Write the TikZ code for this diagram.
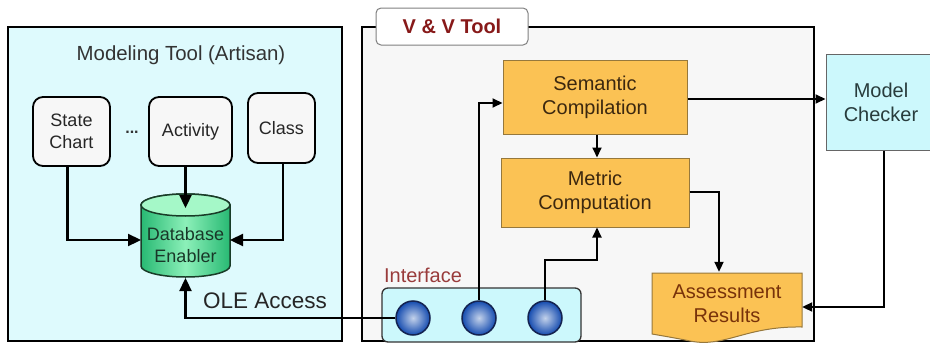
\documentclass[tikz,border=0pt]{standalone}
\usepackage{fontspec}
\setmainfont{Liberation Sans}
\usetikzlibrary{arrows.meta,shapes.geometric,calc}
\definecolor{leftbg}{RGB}{222,250,253}
\definecolor{vvbg}{RGB}{247,247,247}
\definecolor{orangef}{RGB}{251,194,84}
\definecolor{orangeb}{RGB}{150,120,60}
\definecolor{cyanbox}{RGB}{204,248,252}
\definecolor{darkred}{RGB}{135,25,25}
\definecolor{brownt}{RGB}{120,50,10}
\definecolor{proct}{RGB}{60,40,15}
\definecolor{dbdark}{RGB}{40,185,115}
\definecolor{dbmid}{RGB}{140,240,185}
\definecolor{dbtop}{RGB}{165,248,200}
\definecolor{dbline}{RGB}{25,60,40}
\definecolor{balldark}{RGB}{20,75,175}
\definecolor{balllight}{RGB}{195,210,235}
\definecolor{ballline}{RGB}{20,35,80}
\definecolor{mctext}{RGB}{40,60,60}
\definecolor{dbtext}{RGB}{25,55,40}
\tikzset{
  frame/.style={draw=black, line width=2pt},
  softbox/.style={draw=black, line width=1.8pt, fill=gray!6, rounded corners=10pt,
    align=center, inner sep=0pt, font=\fontsize{18}{22}\selectfont, text=black!85},
  procbox/.style={draw=orangeb, line width=1pt, fill=orangef, align=center, inner sep=0pt,
    font=\fontsize{20}{24}\selectfont, text=proct},
  conn/.style={line width=2pt, -{Triangle[length=10pt,width=9pt]}},
  bigconn/.style={line width=2.3pt, -{Triangle[length=13pt,width=12pt]}},
  port/.style={circle, minimum size=34pt, inner sep=0pt, inner color=balllight,
    outer color=balldark, draw=ballline, line width=1.5pt},
}
\begin{document}
\begin{tikzpicture}[x=1pt,y=-1pt]
\useasboundingbox (0,0) rectangle (930,351);
% frames
\draw[frame, fill=leftbg] (8,27) rectangle (342,341);
\draw[frame, fill=vvbg] (362,27) rectangle (814,341);
\node[draw=gray, fill=white, rounded corners=5pt, line width=1pt, minimum width=152pt,
  minimum height=37pt, inner sep=0pt, font=\bfseries\fontsize{20}{24}\selectfont, text=darkred]
  (vvlabel) at (452,26.5) {V \& V Tool};
\node[font=\fontsize{20.4}{24}\selectfont, text=black!80] (mtitle) at (181,55) {Modeling Tool (Artisan)};
% modeling boxes
\node[softbox, minimum width=77pt, minimum height=69pt] (sc) at (71.5,131.5) {State\\Chart};
\node[softbox, minimum width=83pt, minimum height=69pt] (act) at (190.5,131.5) {Activity};
\node[softbox, minimum width=67pt, minimum height=70pt] (cls) at (281.5,128) {Class};
\node[font=\bfseries\fontsize{16}{20}\selectfont, text=black!80] (dots) at (132,132) {...};
% database cylinder
\path[draw=dbline, line width=1.5pt, left color=dbdark, right color=dbdark, middle color=dbmid]
  (141,205) -- (141,266) arc[start angle=180, end angle=0, x radius=44.5, y radius=11]
  -- (230,205) arc[start angle=0, end angle=-180, x radius=44.5, y radius=11] -- cycle;
\draw[draw=dbline, line width=1.5pt, fill=dbtop] (185.5,205) ellipse[x radius=44.5, y radius=11];
\node[align=center, font=\fontsize{18}{22}\selectfont, text=dbtext] (db) at (185.5,245) {Database\\Enabler};
\coordinate (dbL) at (141,240);
\coordinate (dbR) at (230,240);
\coordinate (dbT) at (185.5,208);
\coordinate (dbB) at (185.5,278);
% V&V boxes
\node[procbox, minimum width=184pt, minimum height=74pt] (sem) at (595,97) {Semantic\\Compilation};
\node[procbox, minimum width=188pt, minimum height=69pt] (met) at (595,192.5) {Metric\\Computation};
% model checker
\node[draw=gray!80!black, line width=1pt, fill=cyanbox, minimum width=110pt, minimum height=96pt,
  inner sep=0pt, align=center, font=\fontsize{20}{24}\selectfont, text=mctext] (mc) at (881,102) {Model\\Checker};
% assessment results
\path[draw=orangeb, line width=1pt, fill=orangef]
  (652,273) -- (802,273) -- (802,327) .. controls (745,326) and (725,348) .. (690,341)
  .. controls (675,338) .. (652,334) -- cycle;
\node[minimum width=150pt, minimum height=62pt, inner sep=0pt, align=center,
  font=\fontsize{20}{24}\selectfont, text=brownt] (ar) at (727,304) {Assessment\\Results};
% interface
\node[draw=black!80, line width=1.3pt, fill=cyanbox, rounded corners=6pt, minimum width=199pt,
  minimum height=54pt, inner sep=0pt] (iface) at (481.5,315) {};
\node[font=\fontsize{20}{24}\selectfont, text=darkred!85] (ilabel) at (423,275) {Interface};
\node[port] (p1) at (413,318) {};
\node[port] (p2) at (479,318) {};
\node[port] (p3) at (545,318) {};
\node[font=\fontsize{22.5}{26}\selectfont, text=black!85] (ole) at (265,301) {OLE Access};
% connectors
\draw[bigconn] ([xshift=-4pt]sc.south) |- (dbL);
\draw[bigconn] ([xshift=1.5pt]cls.south) |- (dbR);
\draw[bigconn] (act.south -| dbT) -- (dbT);
\draw[bigconn] (p1.west) -| (dbB);
\draw[conn] (p2.north) |- ($(sem.west)+(0,6)$);
\coordinate (j3) at (545,260);
\draw[conn] (p3.north) -- (j3) -| ([xshift=2pt]met.south);
\draw[conn] ([xshift=2pt]sem.south) -- ([xshift=2pt]met.north);
\draw[conn] ($(sem.east)+(0,2)$) -- ($(sem.east -| mc.west)+(0,2)$);
\draw[conn] ($(met.east)+(0,-0.5)$) -| ($(ar.north)+(-8,-1)$);
\draw[conn] ([xshift=3pt]mc.south) |- ($(ar.east)+(0,3)$);
\end{tikzpicture}
\end{document}
